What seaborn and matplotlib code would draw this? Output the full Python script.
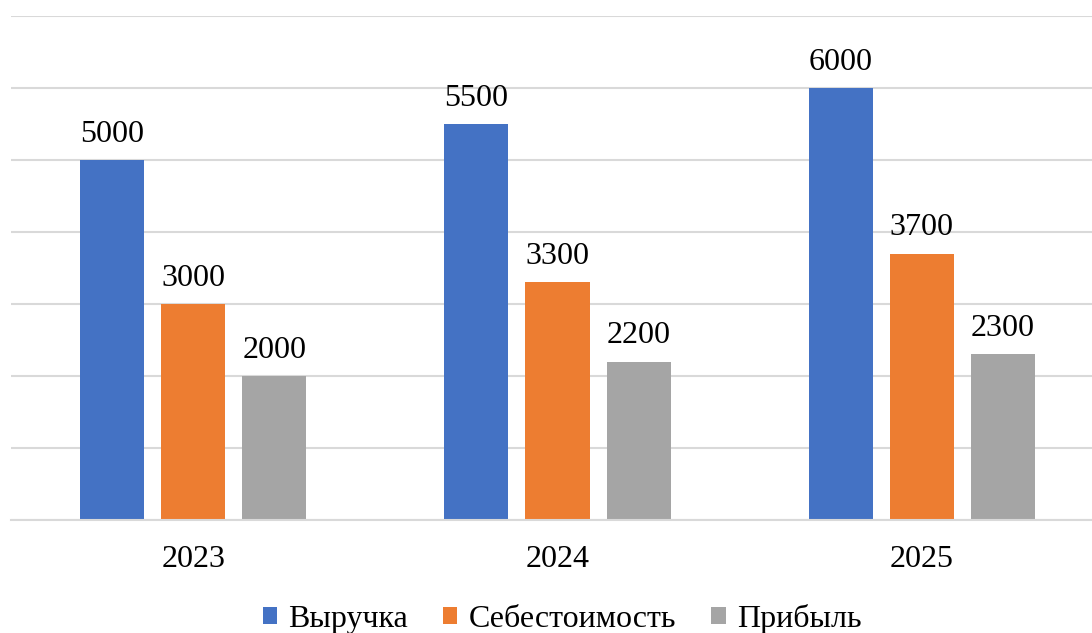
import matplotlib
matplotlib.use("Agg")
import matplotlib.pyplot as plt
import seaborn as sns
import pandas as pd

years = ["2023", "2024", "2025"]
series = ["Выручка", "Себестоимость", "Прибыль"]
revenue = [5000, 5500, 6000]
cost = [3000, 3300, 3700]
profit = [2000, 2200, 2300]
colors = ["#4472C4", "#ED7D31", "#A5A5A5"]
yticks = [0, 1000, 2000, 3000, 4000, 5000, 6000, 7000]

rows = []
for name, vals in zip(series, [revenue, cost, profit]):
    for y, v in zip(years, vals):
        rows.append({"Год": y, "Показатель": name, "Значение": v})
df = pd.DataFrame(rows)

sns.set_theme(style="white")
plt.rcParams["font.family"] = ["Liberation Serif", "DejaVu Serif"]
plt.rcParams["text.color"] = "black"

W, H = 1092, 633
fig = plt.figure(figsize=(W / 100, H / 100), dpi=100)
left, right = 11, 1104
top, bottom = 16, 520
ax = fig.add_axes([left / W, (H - bottom) / H, (right - left) / W, (bottom - top) / H])

sns.barplot(data=df, x="Год", y="Значение", hue="Показатель", order=years,
            hue_order=series, palette=colors, width=0.6675, gap=0.21,
            saturation=1, linewidth=0, edgecolor="none", ax=ax, legend=True)

ax.set_ylim(0, 7000)
ax.set_xlim(-0.5, 2.5)
ax.set_yticks(yticks)
ax.yaxis.grid(True, color="#D9D9D9", linewidth=1.5)
ax.set_axisbelow(True)
for s in ["left", "right", "top"]:
    ax.spines[s].set_visible(False)
ax.spines["bottom"].set_color("#D9D9D9")
ax.spines["bottom"].set_linewidth(1.5)
ax.tick_params(axis="y", left=False, labelleft=False)
ax.tick_params(axis="x", bottom=False, labelsize=23, pad=12, labelcolor="black")
ax.set_xlabel("")
ax.set_ylabel("")

for c in ax.containers:
    ax.bar_label(c, fmt="%d", padding=8, fontsize=23, color="black")

handles, labels = ax.get_legend_handles_labels()
ax.legend_.remove()
leg = fig.legend(handles, labels, loc="center", bbox_to_anchor=(562 / W, 1 - 619 / H),
                 ncol=3, frameon=False, fontsize=23, handlelength=0.45, handleheight=0.45,
                 handletextpad=0.35, columnspacing=1.1)
for t in leg.get_texts():
    t.set_color("black")

fig.savefig("out.png", dpi=100)
